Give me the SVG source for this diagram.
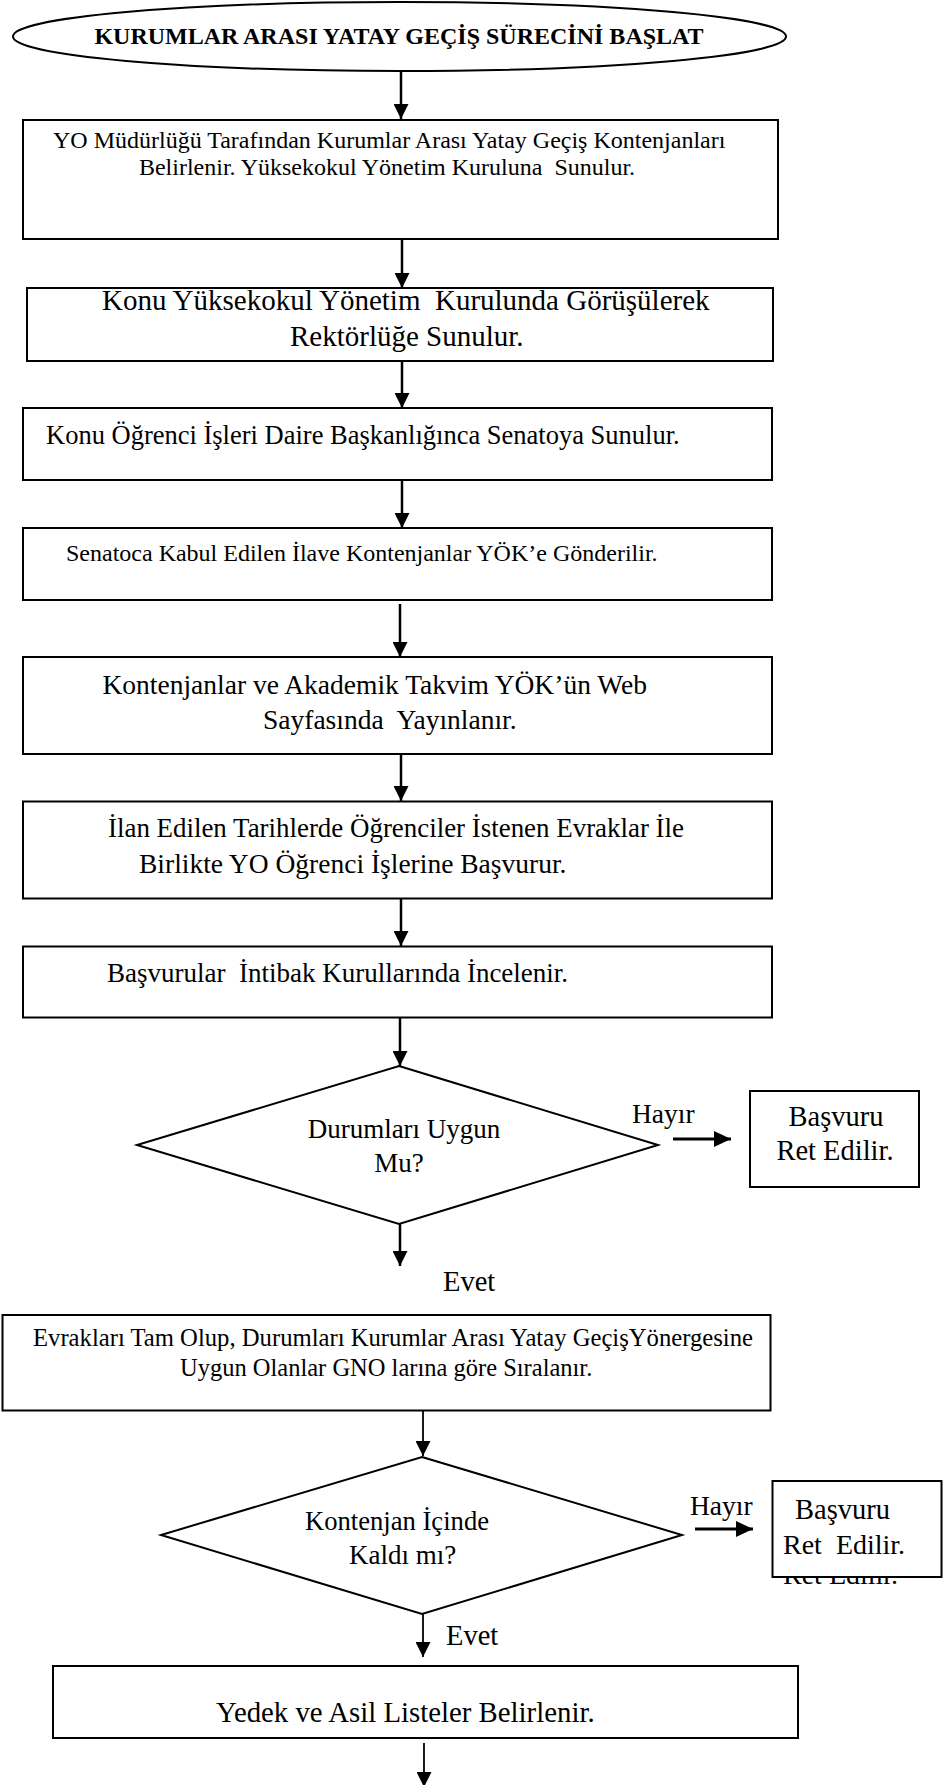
<svg xmlns="http://www.w3.org/2000/svg" width="945" height="1785" viewBox="0 0 945 1785">
<defs>
<style>
text{font-family:"Liberation Serif","Times New Roman",serif;fill:#000}
.box{fill:#fff;stroke:#000;stroke-width:2}
.conn line{stroke:#000;stroke-width:2.5;marker-end:url(#ah)}
.conn line.thin{stroke-width:1.8}
.conn line.side{stroke-width:3.2;marker-end:url(#ahs)}
</style>
<marker id="ah" viewBox="0 0 15 15" refX="15" refY="7.5" markerWidth="15" markerHeight="15" markerUnits="userSpaceOnUse" orient="auto">
<path d="M0,0 L15,7.5 L0,15 z" fill="#000"/>
</marker>
<marker id="ahs" viewBox="0 0 17 16" refX="17" refY="8" markerWidth="17" markerHeight="16" markerUnits="userSpaceOnUse" orient="auto">
<path d="M0,0 L17,8 L0,16 z" fill="#000"/>
</marker>
<clipPath id="below"><rect x="760" y="1577" width="185" height="20"/></clipPath>
</defs>

<g id="connectors" class="conn">
<line x1="401" y1="71" x2="401" y2="119"/>
<line x1="402" y1="239" x2="402" y2="288"/>
<line x1="402" y1="361" x2="402" y2="408"/>
<line x1="402" y1="480" x2="402" y2="528"/>
<line x1="400" y1="604" x2="400" y2="657"/>
<line x1="401" y1="754" x2="401" y2="801"/>
<line x1="401" y1="898.5" x2="401" y2="946"/>
<line x1="400" y1="1017.5" x2="400" y2="1066"/>
<line class="side" x1="673" y1="1139" x2="731" y2="1139"/>
<line x1="400" y1="1224" x2="400" y2="1266"/>
<line class="thin" x1="423" y1="1410.5" x2="423" y2="1456"/>
<line class="side" x1="695" y1="1529" x2="753" y2="1529"/>
<line class="thin" x1="423" y1="1614" x2="423" y2="1657"/>
<line class="thin" x1="424" y1="1743" x2="424" y2="1787"/>
</g>

<g id="start">
<ellipse cx="399.5" cy="36.5" rx="386.5" ry="34.5" class="box"/>
<text x="399" y="44" font-size="24" font-weight="bold" text-anchor="middle">KURUMLAR ARASI YATAY GEÇİŞ SÜRECİNİ BAŞLAT</text>
</g>

<g id="n2">
<rect x="23" y="120" width="755" height="119" class="box"/>
<text x="53" y="148" font-size="24">YO Müdürlüğü Tarafından Kurumlar Arası Yatay Geçiş Kontenjanları</text>
<text x="387" y="175" font-size="24" text-anchor="middle" xml:space="preserve">Belirlenir. Yüksekokul Yönetim Kuruluna  Sunulur.</text>
</g>

<g id="n3">
<rect x="27" y="288" width="746" height="73" class="box"/>
<text x="102" y="310" font-size="29" xml:space="preserve">Konu Yüksekokul Yönetim  Kurulunda Görüşülerek</text>
<text x="290" y="346" font-size="29">Rektörlüğe Sunulur.</text>
</g>

<g id="n4">
<rect x="23" y="408" width="749" height="72" class="box"/>
<text x="46" y="444" font-size="26.5">Konu Öğrenci İşleri Daire Başkanlığınca Senatoya Sunulur.</text>
</g>

<g id="n5">
<rect x="23" y="528" width="749" height="72" class="box"/>
<text x="66" y="561" font-size="24">Senatoca Kabul Edilen İlave Kontenjanlar YÖK’e Gönderilir.</text>
</g>

<g id="n6">
<rect x="23" y="657" width="749" height="97" class="box"/>
<text x="102.5" y="694" font-size="27.5">Kontenjanlar ve Akademik Takvim YÖK’ün Web</text>
<text x="263" y="728.5" font-size="27.5" xml:space="preserve">Sayfasında  Yayınlanır.</text>
</g>

<g id="n7">
<rect x="23" y="801.5" width="749" height="97" class="box"/>
<text x="108" y="837" font-size="27" textLength="576" lengthAdjust="spacingAndGlyphs">İlan Edilen Tarihlerde Öğrenciler İstenen Evraklar İle</text>
<text x="139" y="873" font-size="27.5">Birlikte YO Öğrenci İşlerine Başvurur.</text>
</g>

<g id="n8">
<rect x="23" y="946.5" width="749" height="71" class="box"/>
<text x="107" y="982" font-size="27" xml:space="preserve">Başvurular  İntibak Kurullarında İncelenir.</text>
</g>

<g id="d1">
<polygon points="399,1066 658,1145 399,1224 137,1145" class="box"/>
<text x="404" y="1138" font-size="27" text-anchor="middle">Durumları Uygun</text>
<text x="399" y="1172" font-size="27" text-anchor="middle">Mu?</text>
</g>

<g id="l-hayir1">
<text x="632" y="1123" font-size="27.5">Hayır</text>
</g>

<g id="r1">
<rect x="750" y="1091" width="169" height="96" class="box"/>
<text x="836" y="1126" font-size="28.5" text-anchor="middle">Başvuru</text>
<text x="835" y="1160" font-size="28.5" text-anchor="middle">Ret Edilir.</text>
</g>

<g id="l-evet1">
<text x="443" y="1291" font-size="28.5">Evet</text>
</g>

<g id="n10">
<rect x="2.5" y="1315" width="768" height="95.5" class="box"/>
<text x="33" y="1346" font-size="24.5" textLength="720" lengthAdjust="spacingAndGlyphs">Evrakları Tam Olup, Durumları Kurumlar Arası Yatay GeçişYönergesine</text>
<text x="180" y="1376" font-size="24.5">Uygun Olanlar GNO larına göre Sıralanır.</text>
</g>

<g id="d2">
<polygon points="422,1457 682,1535 422,1614 161,1535" class="box"/>
<text x="305" y="1530" font-size="27" textLength="184" lengthAdjust="spacingAndGlyphs">Kontenjan İçinde</text>
<text x="349" y="1564" font-size="27">Kaldı mı?</text>
</g>

<g id="l-hayir2">
<text x="690" y="1515" font-size="27.5">Hayır</text>
</g>

<g id="r2">
<text x="783" y="1584" font-size="28" clip-path="url(#below)">Ret Edilir.</text>
<rect x="772.5" y="1481" width="169" height="96" class="box"/>
<text x="795" y="1519" font-size="28.5">Başvuru</text>
<text x="783" y="1554" font-size="28" xml:space="preserve">Ret  Edilir.</text>
</g>

<g id="l-evet2">
<text x="446" y="1645" font-size="28.5">Evet</text>
</g>

<g id="n12">
<rect x="53" y="1666" width="745" height="72" class="box"/>
<text x="216" y="1722" font-size="28.8">Yedek ve Asil Listeler Belirlenir.</text>
</g>
</svg>
